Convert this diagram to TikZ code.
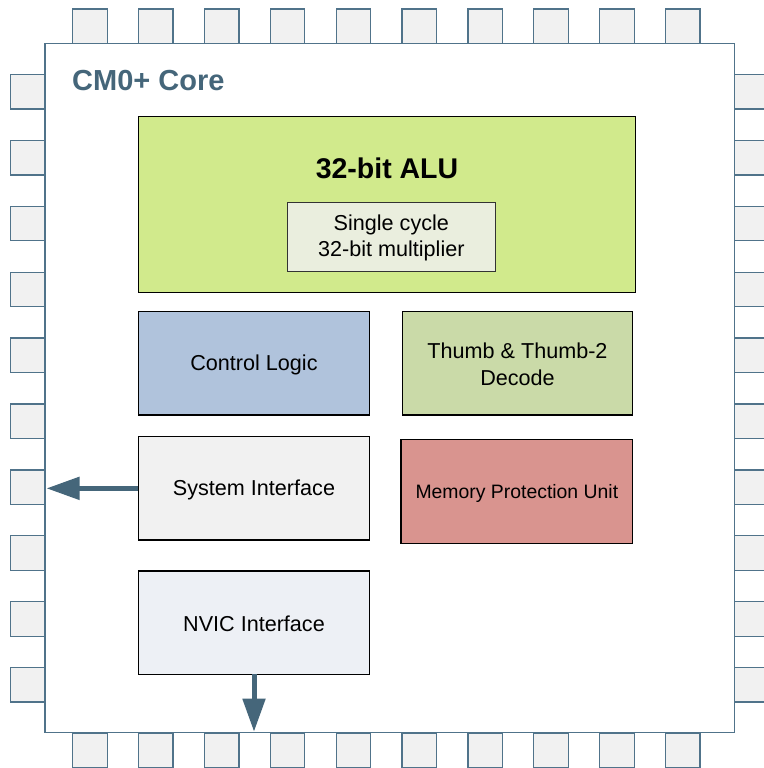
\documentclass[tikz,border=0pt]{standalone}
\usepackage{fontspec}
\setmainfont{Liberation Sans}
\usetikzlibrary{arrows.meta,calc}
\definecolor{pinedge}{RGB}{80,115,138}
\definecolor{pinfill}{RGB}{241,241,241}
\definecolor{arrowc}{RGB}{69,102,122}
\definecolor{alufill}{RGB}{209,234,140}
\definecolor{mulfill}{RGB}{234,238,222}
\definecolor{ctrlfill}{RGB}{176,195,220}
\definecolor{thumbfill}{RGB}{202,218,168}
\definecolor{sysfill}{RGB}{241,241,241}
\definecolor{mpufill}{RGB}{217,148,143}
\definecolor{nvicfill}{RGB}{237,240,245}
\begin{document}
\begin{tikzpicture}[x=1pt,y=-1pt,
  pinbox/.style={draw=pinedge,fill=pinfill,line width=1.3pt,minimum width=34.5pt,minimum height=34.5pt,inner sep=0pt,outer sep=0pt},
  chipbox/.style={draw=pinedge,fill=white,line width=1.5pt,inner sep=0pt,outer sep=0pt},
  block/.style={draw=black,line width=1.1pt,inner sep=0pt,outer sep=0pt,align=center,font=\fontsize{21.6}{26.5}\selectfont},
  titletext/.style={font=\fontsize{28.5}{32}\selectfont\bfseries,inner sep=0pt},
  bigarrow/.style={draw=arrowc,line width=5pt,-{Triangle[length=33pt,width=22pt]}}]
\useasboundingbox (0,0) rectangle (763,768);
% pins
\foreach \i in {0,...,9}{
  \node[pinbox] (t\i) at ({89.95+65.87*\i},26.25) {};
  \node[pinbox] (b\i) at ({89.95+65.87*\i},750.5) {};
  \node[pinbox] (l\i) at (27.85,{91.7+65.9*\i}) {};
  \node[pinbox] (r\i) at (752,{91.7+65.9*\i}) {};
}
% chip body
\node[chipbox,minimum width=689.7pt,minimum height=689.2pt] (chip) at (389.85,388.1) {};
\node[titletext,text=arrowc,anchor=base west,font=\fontsize{29}{32}\selectfont\bfseries] (title) at (72,90) {CM0+ Core};
% ALU
\node[block,fill=alufill,minimum width=497.4pt,minimum height=175.6pt] (alu) at (387,204.5) {};
\node[titletext,anchor=base] (alutxt) at (387,178) {32-bit ALU};
\node[block,draw=black!80,line width=0.8pt,fill=mulfill,minimum width=207.3pt,minimum height=69.4pt] (mul) at (391.35,237) {};
\node[align=center,font=\fontsize{21.6}{26.5}\selectfont,inner sep=0pt] (multxt) at ($(mul.center)+(0,1)$) {Single cycle\\32-bit multiplier};
% blocks
\node[block,fill=ctrlfill,minimum width=231.4pt,minimum height=103.3pt] (ctrl) at (254,363.35) {};
\node[block,fill=thumbfill,minimum width=230.4pt,minimum height=103.3pt] (thumb) at (517.5,363.35) {};
\node[block,fill=sysfill,minimum width=231.4pt,minimum height=103.3pt] (sys) at (254,488.35) {};
\node[block,fill=mpufill,minimum width=231.7pt,minimum height=103.6pt] (mpu) at (516.85,491.5) {};
\node[block,fill=nvicfill,minimum width=231.4pt,minimum height=103.3pt] (nvic) at (254,622.65) {};
\tikzset{btext/.style={align=center,inner sep=0pt,font=\fontsize{21.6}{26.5}\selectfont}}
\node[btext] (ctrltxt) at ($(ctrl.center)+(0,1.5)$) {Control Logic};
\node[btext] (thumbtxt) at ($(thumb.center)+(0,1)$) {Thumb \& Thumb-2\\Decode};
\node[btext] (systxt) at ($(sys.center)+(0,1.5)$) {System Interface};
\node[btext,font=\fontsize{19.4}{23}\selectfont] (mputxt) at ($(mpu.center)+(0,1.5)$) {Memory Protection Unit};
\node[btext] (nvictxt) at ($(nvic.center)+(0,1.5)$) {NVIC Interface};
% arrows
\coordinate (sysout) at ($(chip.west |- sys.west)+(1.5,0)$);
\coordinate (nvicout) at ($(nvic.south |- chip.south)+(0,-1)$);
\draw[bigarrow] (sys.west) -- (sysout);
\draw[bigarrow] (nvic.south) -- (nvicout);
\end{tikzpicture}
\end{document}
